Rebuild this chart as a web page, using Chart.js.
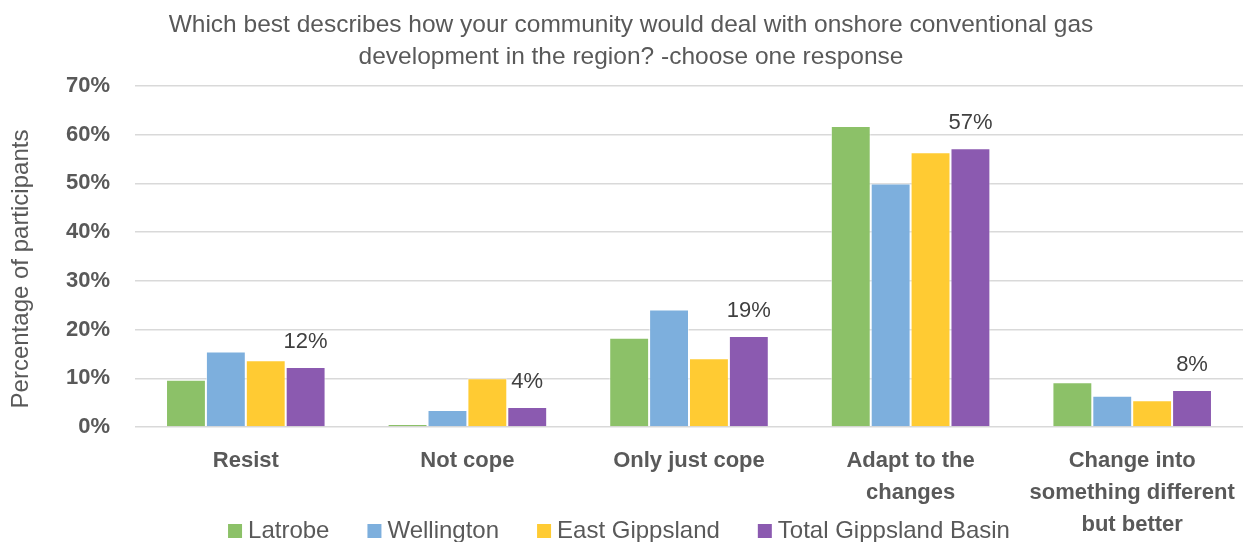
<!DOCTYPE html>
<html>
<head>
<meta charset="utf-8">
<script src="https://cdn.jsdelivr.net/npm/chart.js@4.4.1/dist/chart.umd.min.js"></script>
<style>
  html, body { margin: 0; padding: 0; background: #fff; }
  #wrap { width: 1246px; height: 542px; }
</style>
</head>
<body>
<div id="wrap"><canvas id="chart" width="1246" height="542"></canvas></div>
<script>
// ── Data ─────────────────────────────────────────────────────────────────────
const TITLE_LINES = [
  "Which best describes how your community would deal with onshore conventional gas",
  "development in the region? -choose one response",
];
const Y_TITLE = "Percentage of participants";
const categories = [
  "Resist",
  "Not cope",
  "Only just cope",
  ["Adapt to the", "changes"],
  ["Change into", "something different", "but better"],
];
const latrobe       = [9.7, 0.6, 18.3, 61.8, 9.2];
const wellington    = [15.5, 3.5, 24.1, 50.0, 6.4];
const eastGippsland = [13.7, 10.0, 14.1, 56.4, 5.5];
const totalBasin    = [12.3, 4.1, 18.7, 57.2, 7.6];
const yTicks = [0, 10, 20, 30, 40, 50, 60, 70];

// ── Styles ───────────────────────────────────────────────────────────────────
const FONT = "'Liberation Sans', Arial, sans-serif";
const GREY = "#595959";
const COLORS = {
  latrobe: "#8CC168",
  wellington: "#7DAFDD",
  east: "#FFCB33",
  total: "#8B5AB0",
};

// ── Plugins ──────────────────────────────────────────────────────────────────
const titlePlugin = {
  id: "twoLineTitle",
  afterDraw(chart) {
    const ctx = chart.ctx;
    ctx.save();
    ctx.font = `24.5px ${FONT}`;
    ctx.fillStyle = GREY;
    ctx.textAlign = "center";
    ctx.textBaseline = "middle";
    ctx.fillText(TITLE_LINES[0], 631, 25);
    ctx.fillText(TITLE_LINES[1], 631, 57);

    // rotated y axis title, sitting a little below the plot's middle
    ctx.font = `24px ${FONT}`;
    ctx.translate(21, 269);
    ctx.rotate(-Math.PI / 2);
    ctx.fillText(Y_TITLE, 0, 0);
    ctx.restore();
  },
};

const valueLabels = {
  id: "valueLabels",
  afterDatasetsDraw(chart) {
    const ctx = chart.ctx;
    const last = chart.data.datasets.length - 1;
    const meta = chart.getDatasetMeta(last);
    ctx.save();
    ctx.font = `22px ${FONT}`;
    ctx.fillStyle = "#404040";
    ctx.textAlign = "center";
    ctx.textBaseline = "middle";
    meta.data.forEach((bar, i) => {
      const v = chart.data.datasets[last].data[i];
      ctx.fillText(Math.round(v) + "%", bar.x, bar.y - 25);
    });
    ctx.restore();
  },
};

const bottomLegend = {
  id: "bottomLegend",
  afterDraw(chart) {
    const ctx = chart.ctx;
    const box = 14, gap = 6, spacing = 38;
    ctx.save();
    ctx.font = `24px ${FONT}`;
    const items = chart.data.datasets.map((d) => ({
      label: d.label,
      color: d.backgroundColor,
      w: box + gap + ctx.measureText(d.label).width,
    }));
    const total = items.reduce((s, it) => s + it.w, 0) + spacing * (items.length - 1);
    let x = 619 - total / 2;
    const y = 531;
    ctx.textBaseline = "middle";
    ctx.textAlign = "left";
    items.forEach((it) => {
      ctx.fillStyle = it.color;
      ctx.fillRect(x, y - box / 2, box, box);
      ctx.fillStyle = GREY;
      ctx.fillText(it.label, x + box + gap, y);
      x += it.w + spacing;
    });
    ctx.restore();
  },
};

// ── Chart ────────────────────────────────────────────────────────────────────
const barDefaults = { borderWidth: 1, borderColor: "rgba(255,255,255,0.55)" };

new Chart(document.getElementById("chart").getContext("2d"), {
  type: "bar",
  data: {
    labels: categories,
    datasets: [
      { label: "Latrobe", data: latrobe, backgroundColor: COLORS.latrobe, ...barDefaults },
      { label: "Wellington", data: wellington, backgroundColor: COLORS.wellington, ...barDefaults },
      { label: "East Gippsland", data: eastGippsland, backgroundColor: COLORS.east, ...barDefaults },
      { label: "Total Gippsland Basin", data: totalBasin, backgroundColor: COLORS.total, ...barDefaults },
    ],
  },
  options: {
    responsive: false,
    animation: false,
    categoryPercentage: 0.72,
    barPercentage: 1,
    layout: { padding: { top: 86, right: 3, bottom: 0, left: 0 } },
    plugins: {
      legend: { display: false },
      title: { display: false },
      tooltip: { enabled: false },
    },
    scales: {
      x: {
        grid: { display: false, drawTicks: false },
        border: { display: false },
        ticks: {
          color: GREY,
          font: { family: FONT, size: 22, weight: "bold", lineHeight: 1.45 },
          padding: 18,
          maxRotation: 0,
          autoSkip: false,
        },
        afterFit(s) {
          s.height = 115;
          s.paddingLeft = 0;
          s.paddingRight = 0;
        },
      },
      y: {
        min: 0,
        max: 70,
        afterBuildTicks(s) { s.ticks = yTicks.map((v) => ({ value: v })); },
        grid: { color: "#d9d9d9", lineWidth: 1.5, drawTicks: false },
        border: { display: false },
        ticks: {
          color: GREY,
          font: { family: FONT, size: 22, weight: "bold" },
          padding: 25,
          callback: (v) => v + "%",
        },
        afterFit(s) { s.width = 135; },
      },
    },
  },
  plugins: [titlePlugin, valueLabels, bottomLegend],
});
</script>
</body>
</html>
